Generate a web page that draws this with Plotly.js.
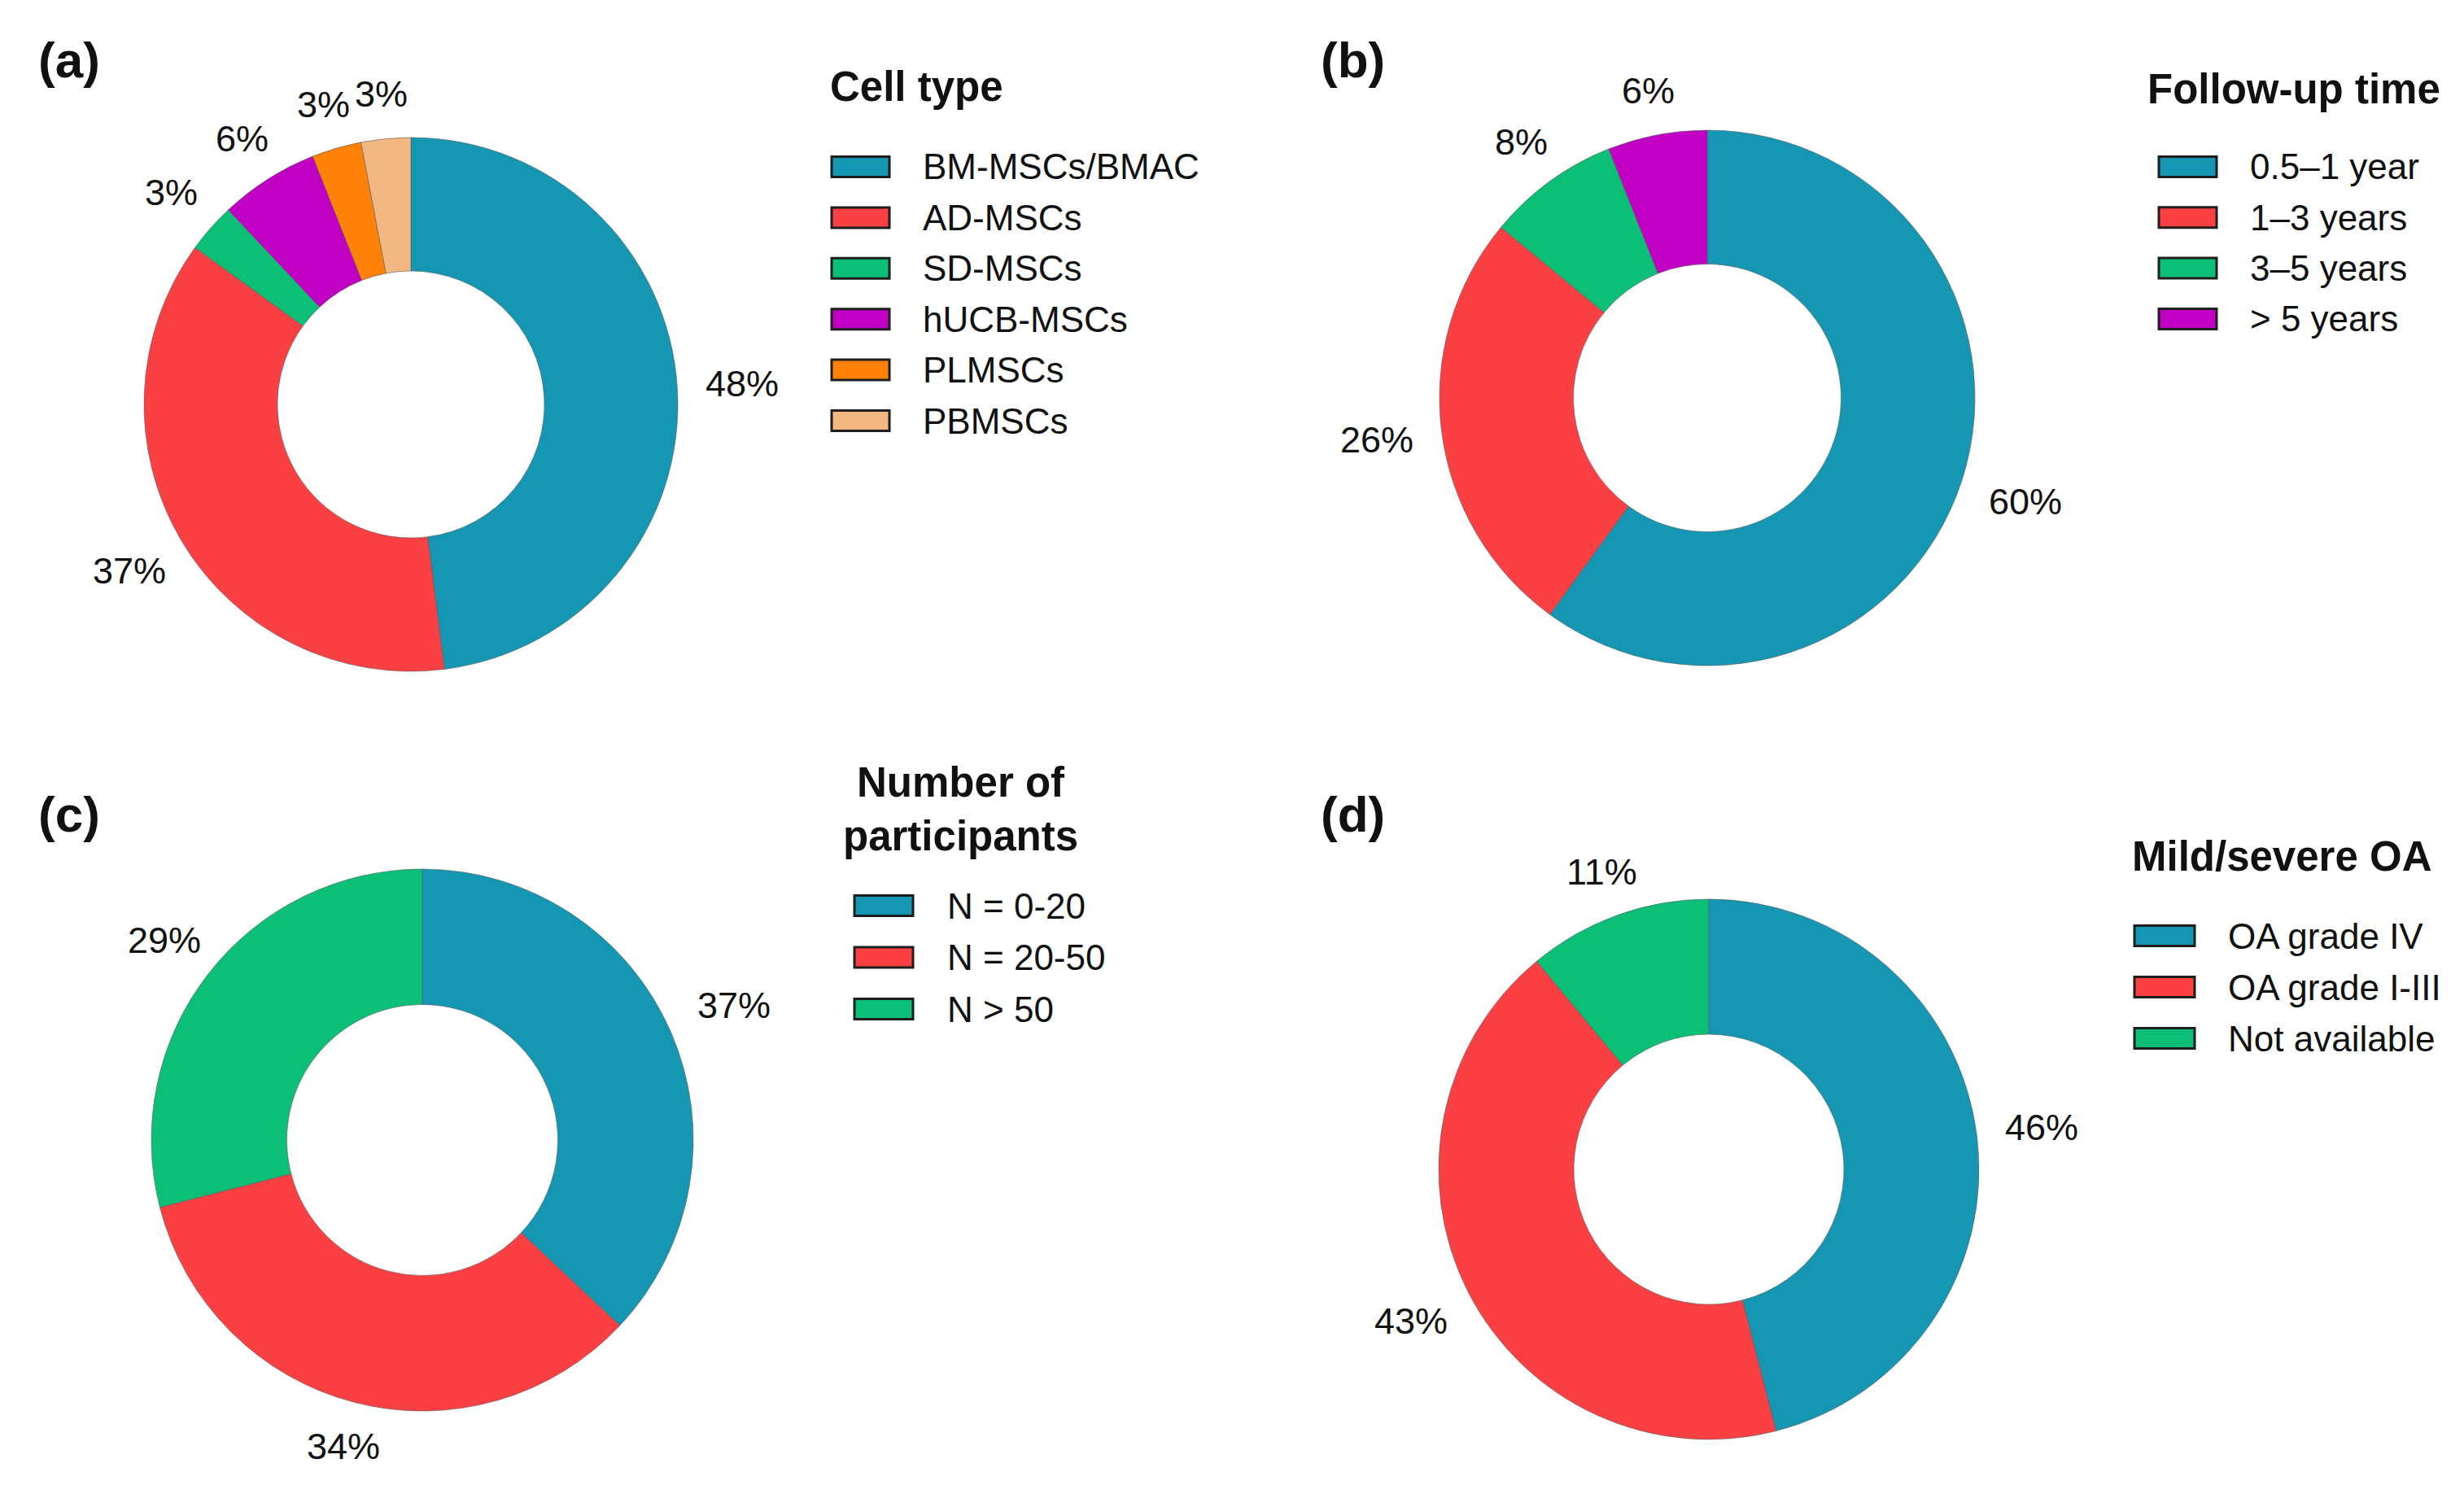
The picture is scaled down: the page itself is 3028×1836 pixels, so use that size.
<!DOCTYPE html>
<html>
<head>
<meta charset="utf-8">
<script src="https://cdn.plot.ly/plotly-3.0.1.min.js"></script>
<style>html,body{margin:0;padding:0;background:#fff;}#chart{width:3028px;height:1836px;}</style>
</head>
<body>
<div id="chart"></div>
<script>
// ---- data ----
const cellTypeLabels = ['BM-MSCs/BMAC', 'AD-MSCs', 'SD-MSCs', 'hUCB-MSCs', 'PLMSCs', 'PBMSCs'];
const cellTypeValues = [48, 37, 3, 6, 3, 3];
const followUpLabels = ['0.5\u20131 year', '1\u20133 years', '3\u20135 years', '> 5 years'];
const followUpValues = [60, 26, 8, 6];
const participantLabels = ['N = 0-20', 'N = 20-50', 'N > 50'];
const participantValues = [37, 34, 29];
const oaLabels = ['OA grade IV', 'OA grade I-III', 'Not available'];
const oaValues = [46, 43, 11];
const panelLetters = ['(a)', '(b)', '(c)', '(d)'];
const legendTitles = ['Cell type', 'Follow-up time', 'Number of<br>participants', 'Mild/severe OA'];

// ---- styling ----
const palette = ['#1597B4', '#FA4042', '#0BBF77', '#C000C2', '#FF8206', '#F3B781'];
const FONT = 'Liberation Sans, Arial, Helvetica, sans-serif';
const LABEL_SIZE = 45;
const W = 3028, H = 1836;
const px2x = p => p / W;
const px2y = p => 1 - p / H;

const panels = [
  {labels: cellTypeLabels, values: cellTypeValues, cx: 505, cy: 497, r: 328,
   letter: {x: 45, y: 73}, title: {x: 1018, y: 107, anchor: 'left'},
   sw: {x0: 1022, x1: 1093}, textX: 1132, rows: 205, step: 62.4},
  {labels: followUpLabels, values: followUpValues, cx: 2098, cy: 489, r: 329,
   letter: {x: 1621, y: 73}, title: {x: 2637, y: 110, anchor: 'left'},
   sw: {x0: 2653, x1: 2724}, textX: 2763, rows: 205, step: 62.3},
  {labels: participantLabels, values: participantValues, cx: 519, cy: 1401, r: 333,
   letter: {x: 45, y: 1000}, title: {x: 1180, y: 994, anchor: 'center'},
   sw: {x0: 1050, x1: 1122}, textX: 1162, rows: 1113, step: 63.5},
  {labels: oaLabels, values: oaValues, cx: 2100, cy: 1437, r: 332,
   letter: {x: 1621, y: 1000}, title: {x: 2618, y: 1052, anchor: 'left'},
   sw: {x0: 2623, x1: 2697}, textX: 2736, rows: 1150, step: 63}
];

// approximate advance widths (em) of Liberation Sans glyphs used in the labels
function textWidth(s, size) {
  let w = 0;
  for (const ch of s) w += (ch === '%') ? 0.889 : 0.556;
  return w * size;
}

const traces = [];
const shapes = [];
const annotations = [];

panels.forEach((p, i) => {
  const colors = palette.slice(0, p.values.length);
  traces.push({
    type: 'pie', labels: p.labels, values: p.values, sort: false,
    direction: 'clockwise', rotation: 0, hole: 0.5,
    marker: {colors: colors, line: {color: 'rgba(90,90,90,0.6)', width: 1}},
    textinfo: 'none', hoverinfo: 'label+percent', showlegend: false,
    domain: {x: [px2x(p.cx - p.r), px2x(p.cx + p.r)], y: [px2y(p.cy + p.r), px2y(p.cy - p.r)]}
  });

  // percentage labels placed outside each slice, on the ray through the slice middle
  const total = p.values.reduce((a, b) => a + b, 0);
  let cum = 0;
  p.values.forEach(v => {
    const mid = (cum + v / 2) / total * 2 * Math.PI;
    cum += v;
    const txt = Math.round(v / total * 100) + '%';
    const hw = textWidth(txt, LABEL_SIZE) / 2, hh = 20;
    const s = Math.sin(mid), c = Math.cos(mid);
    const ext = Math.min(Math.abs(s) > 1e-6 ? hw / Math.abs(s) : 1e9,
                         Math.abs(c) > 1e-6 ? hh / Math.abs(c) : 1e9);
    const d = p.r + 35 + ext;
    annotations.push({
      text: txt, xref: 'paper', yref: 'paper',
      x: px2x(p.cx + d * s), y: px2y(p.cy - d * c),
      xanchor: 'center', yanchor: 'middle', showarrow: false,
      font: {family: FONT, size: LABEL_SIZE, color: '#111'}
    });
  });

  annotations.push({
    text: '<b>' + panelLetters[i] + '</b>', xref: 'paper', yref: 'paper',
    x: px2x(p.letter.x), y: px2y(p.letter.y), xanchor: 'left', yanchor: 'middle',
    showarrow: false, font: {family: FONT, size: 62, color: '#111'}
  });
  annotations.push({
    text: '<b>' + legendTitles[i] + '</b>', xref: 'paper', yref: 'paper',
    x: px2x(p.title.x), y: px2y(p.title.y), xanchor: p.title.anchor, yanchor: 'middle',
    align: 'center', showarrow: false, font: {family: FONT, size: 51, color: '#111'}
  });
  p.labels.forEach((lab, j) => {
    const yc = p.rows + j * p.step;
    shapes.push({
      type: 'rect', xref: 'paper', yref: 'paper',
      x0: px2x(p.sw.x0), x1: px2x(p.sw.x1), y0: px2y(yc + 12.5), y1: px2y(yc - 12.5),
      fillcolor: colors[j], line: {color: '#1e1e1e', width: 3}
    });
    annotations.push({
      text: lab, xref: 'paper', yref: 'paper',
      x: px2x(p.textX), y: px2y(yc), xanchor: 'left', yanchor: 'middle',
      showarrow: false, font: {family: FONT, size: 44, color: '#111'}
    });
  });
});

const layout = {
  width: W, height: H,
  margin: {l: 0, r: 0, t: 0, b: 0},
  paper_bgcolor: '#ffffff', plot_bgcolor: '#ffffff',
  showlegend: false,
  font: {family: FONT, color: '#111'},
  shapes: shapes, annotations: annotations
};

Plotly.newPlot('chart', traces, layout, {displayModeBar: false, staticPlot: true});
</script>
</body>
</html>
